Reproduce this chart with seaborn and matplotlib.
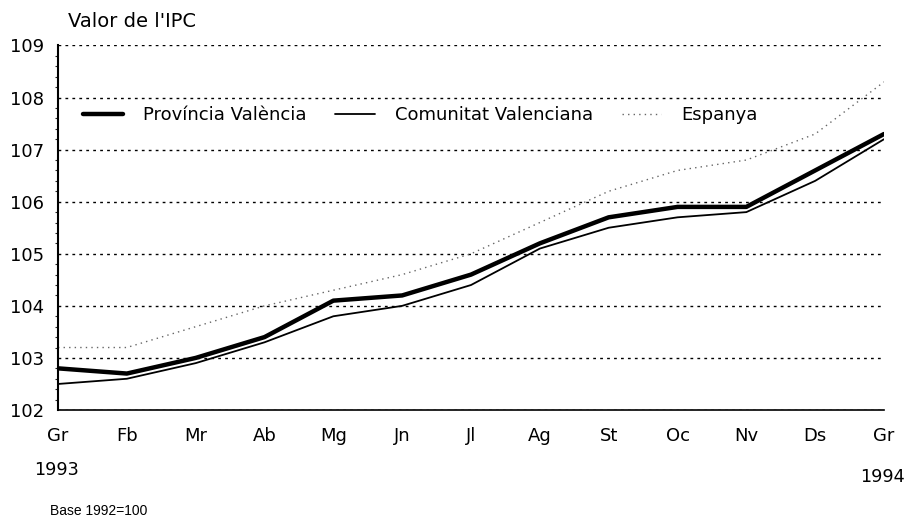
import pandas as pd
import matplotlib.pyplot as plt
import seaborn as sns
from matplotlib.ticker import MultipleLocator

mesos = ['Gr', 'Fb', 'Mr', 'Ab', 'Mg', 'Jn', 'Jl', 'Ag', 'St', 'Oc', 'Nv', 'Ds', 'Gr']
provincia = [102.8, 102.7, 103.0, 103.4, 104.1, 104.2, 104.6, 105.2, 105.7, 105.9, 105.9, 106.6, 107.3]
comunitat = [102.5, 102.6, 102.9, 103.3, 103.8, 104.0, 104.4, 105.1, 105.5, 105.7, 105.8, 106.4, 107.2]
espanya = [103.2, 103.2, 103.6, 104.0, 104.3, 104.6, 105.0, 105.6, 106.2, 106.6, 106.8, 107.3, 108.3]

sns.set_style('white')
plt.rcParams['font.family'] = ['DejaVu Sans']
plt.rcParams['text.color'] = 'black'

pos = list(range(len(mesos)))
df = pd.DataFrame({'pos': pos, 'Província València': provincia,
                   'Comunitat Valenciana': comunitat, 'Espanya': espanya})

fig = plt.figure(figsize=(9.09, 5.19), dpi=100)
ax = fig.add_axes([0.0638, 0.21, 0.9087, 0.7024])

sns.lineplot(data=df, x='pos', y='Província València', ax=ax, color='black',
             linewidth=3.2, label='Província València')
sns.lineplot(data=df, x='pos', y='Comunitat Valenciana', ax=ax, color='black',
             linewidth=1.3, label='Comunitat Valenciana')
sns.lineplot(data=df, x='pos', y='Espanya', ax=ax, color='#666666',
             linewidth=1.0, linestyle=(0, (1, 3)), label='Espanya')

ax.set_xlim(0, 12)
ax.set_ylim(102, 109)
ax.set_xticks(pos)
ax.set_xticklabels(mesos)
ax.set_yticks(range(102, 110))
ax.yaxis.set_minor_locator(MultipleLocator(0.2))
for y in range(102, 110):
    ax.axhline(y, color='black', linewidth=1.0, linestyle=(0, (2, 3)), zorder=0)

ax.set_xlabel('')
ax.set_ylabel('')
for s in ['top', 'right']:
    ax.spines[s].set_visible(False)
ax.spines['left'].set_linewidth(1.5)
ax.spines['bottom'].set_linewidth(1.2)
ax.spines['left'].set_color('black')
ax.spines['bottom'].set_color('black')
ax.tick_params(axis='both', which='major', direction='out', length=4, width=1,
               labelsize=13, colors='black')
ax.tick_params(axis='y', which='minor', direction='out', length=2, width=0.8, left=True)
ax.tick_params(axis='x', pad=8)
ax.tick_params(axis='y', pad=6)

leg = ax.legend(loc='center left', bbox_to_anchor=(0.0303, 0.808), ncol=3, frameon=False,
                fontsize=13, handlelength=2.2, handletextpad=1.1, columnspacing=1.6,
                borderpad=0, borderaxespad=0)
for t in leg.get_texts():
    t.set_color('black')

fig.text(0.075, 0.958, "Valor de l'IPC", fontsize=14, va='center', color='black')
fig.text(0.038, 0.094, '1993', fontsize=12.7, va='center', color='black')
fig.text(0.946, 0.081, '1994', fontsize=12.7, va='center', color='black')
fig.text(0.055, 0.015, 'Base 1992=100', fontsize=10, va='center', color='black',
         family=['Liberation Sans', 'DejaVu Sans'])

fig.savefig('out.png', dpi=100)
